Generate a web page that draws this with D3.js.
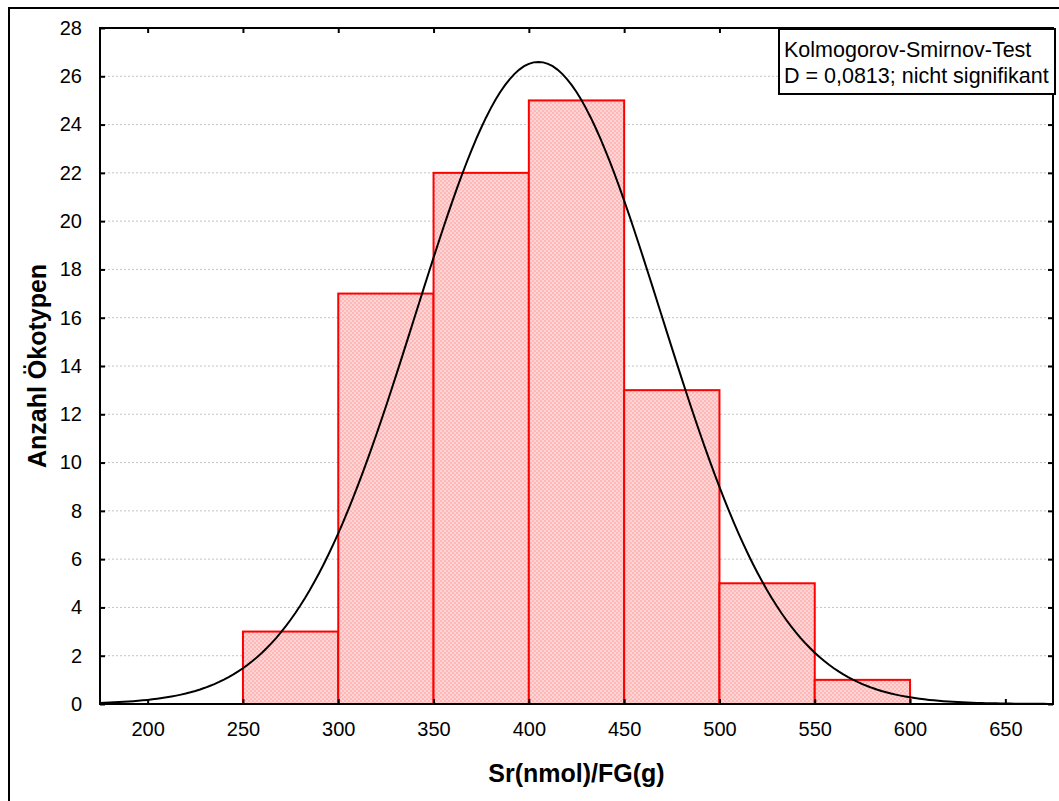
<!DOCTYPE html>
<html>
<head>
<meta charset="utf-8">
<script src="https://cdn.jsdelivr.net/npm/d3@7"></script>
<style>
  body { margin: 0; background: #fff; }
  svg text { font-family: Arial, "Liberation Sans", sans-serif; }
</style>
</head>
<body>
<div id="vis"></div>
<script>
// histogram bins (lower edges) and counts
const binStarts = [250, 300, 350, 400, 450, 500, 550];
const binWidth = 50;
const counts = [3, 17, 22, 25, 13, 5, 1];
const xTicks = [200, 250, 300, 350, 400, 450, 500, 550, 600, 650];
const yTicks = [0, 2, 4, 6, 8, 10, 12, 14, 16, 18, 20, 22, 24, 26, 28];
// fitted normal curve
const fitMean = 405;
const fitSd = 64.5;
const legendLines = ['Kolmogorov-Smirnov-Test', 'D = 0,0813; nicht signifikant'];

const width = 1059;
const height = 801;
const plot = {left: 100, right: 1053, top: 28, bottom: 704};

const svg = d3.select('#vis').append('svg')
  .attr('width', width)
  .attr('height', height);

// outer frame
svg.append('rect')
  .attr('x', 9).attr('y', 8)
  .attr('width', 1070).attr('height', 820)
  .attr('fill', 'none')
  .attr('stroke', '#000')
  .attr('stroke-width', 2);

// pink checker fill
const pat = svg.append('defs').append('pattern')
  .attr('id', 'pinkFill')
  .attr('patternUnits', 'userSpaceOnUse')
  .attr('width', 4).attr('height', 4);
pat.append('rect').attr('width', 4).attr('height', 4).attr('fill', '#ffd4d4');
pat.append('rect').attr('width', 2).attr('height', 2).attr('fill', '#ffb8b8');
pat.append('rect').attr('x', 2).attr('y', 2).attr('width', 2).attr('height', 2).attr('fill', '#ffb8b8');

const xScale = d3.scaleLinear().domain([175, 675]).range([plot.left, plot.right]);
const yScale = d3.scaleLinear().domain([0, 28]).range([plot.bottom, plot.top]);

// gridlines
svg.selectAll('line.grid')
  .data(yTicks.filter(d => d > 0 && d < 28))
  .enter()
  .append('line')
  .attr('class', 'grid')
  .attr('x1', plot.left).attr('x2', plot.right)
  .attr('y1', d => yScale(d)).attr('y2', d => yScale(d))
  .attr('stroke', '#c4c4c4')
  .attr('stroke-dasharray', '2,2');

// bars
svg.selectAll('rect.bar')
  .data(counts)
  .enter()
  .append('rect')
  .attr('class', 'bar')
  .attr('x', (d, i) => xScale(binStarts[i]))
  .attr('y', d => yScale(d))
  .attr('width', (d, i) => xScale(binStarts[i] + binWidth) - xScale(binStarts[i]))
  .attr('height', d => yScale(0) - yScale(d))
  .attr('fill', 'url(#pinkFill)')
  .attr('stroke', '#ff0000')
  .attr('stroke-width', 2);

// normal curve scaled to counts
const total = d3.sum(counts);
const normal = x => total * binWidth / (fitSd * Math.sqrt(2 * Math.PI)) *
  Math.exp(-0.5 * Math.pow((x - fitMean) / fitSd, 2));
const curveX = d3.range(175, 675.5, 2.5);

const curveLine = d3.line()
  .x(d => xScale(d))
  .y(d => yScale(normal(d)));

svg.append('path')
  .attr('d', curveLine(curveX))
  .attr('fill', 'none')
  .attr('stroke', '#000')
  .attr('stroke-width', 2);

// axes: ticks inside on all four sides
svg.append('g')
  .attr('transform', 'translate(0,' + plot.bottom + ')')
  .call(d3.axisBottom(xScale).tickValues(xTicks).tickSizeInner(-5).tickSizeOuter(0).tickPadding(18))
  .call(g => g.select('.domain').remove())
  .call(g => g.selectAll('line').attr('stroke-width', 2))
  .call(g => g.selectAll('text').attr('font-size', 20).attr('fill', '#000').attr('font-family', 'Arial, "Liberation Sans", sans-serif'));

svg.append('g')
  .attr('transform', 'translate(0,' + plot.top + ')')
  .call(d3.axisTop(xScale).tickValues(xTicks).tickSizeInner(-5).tickSizeOuter(0).tickFormat(''))
  .call(g => g.select('.domain').remove())
  .call(g => g.selectAll('line').attr('stroke-width', 2));

svg.append('g')
  .attr('transform', 'translate(' + plot.left + ',0)')
  .call(d3.axisLeft(yScale).tickValues(yTicks).tickSizeInner(-5).tickSizeOuter(0).tickPadding(18))
  .call(g => g.select('.domain').remove())
  .call(g => g.selectAll('line').attr('stroke-width', 2))
  .call(g => g.selectAll('text').attr('font-size', 20).attr('fill', '#000').attr('font-family', 'Arial, "Liberation Sans", sans-serif'));

svg.append('g')
  .attr('transform', 'translate(' + plot.right + ',0)')
  .call(d3.axisRight(yScale).tickValues(yTicks).tickSizeInner(-5).tickSizeOuter(0).tickFormat(''))
  .call(g => g.select('.domain').remove())
  .call(g => g.selectAll('line').attr('stroke-width', 2));

// plot frame
svg.append('rect')
  .attr('x', plot.left).attr('y', plot.top)
  .attr('width', plot.right - plot.left)
  .attr('height', plot.bottom - plot.top)
  .attr('fill', 'none')
  .attr('stroke', '#000')
  .attr('stroke-width', 2);

// legend box
const legend = svg.append('g').attr('transform', 'translate(779,29)');
legend.append('rect')
  .attr('width', 276).attr('height', 65)
  .attr('fill', '#fff')
  .attr('stroke', '#000')
  .attr('stroke-width', 2);
legend.selectAll('text')
  .data(legendLines)
  .enter()
  .append('text')
  .attr('x', 5)
  .attr('y', (d, i) => 28 + i * 26)
  .attr('font-size', 21.5)
  .text(d => d);

// axis titles
svg.append('text')
  .attr('x', (plot.left + plot.right) / 2)
  .attr('y', 782)
  .attr('text-anchor', 'middle')
  .attr('font-size', 25)
  .attr('font-weight', 'bold')
  .text('Sr(nmol)/FG(g)');

svg.append('text')
  .attr('transform', 'translate(46,' + (plot.top + plot.bottom) / 2 + ') rotate(-90)')
  .attr('text-anchor', 'middle')
  .attr('font-size', 25)
  .attr('font-weight', 'bold')
  .text('Anzahl Ökotypen');
</script>
</body>
</html>
